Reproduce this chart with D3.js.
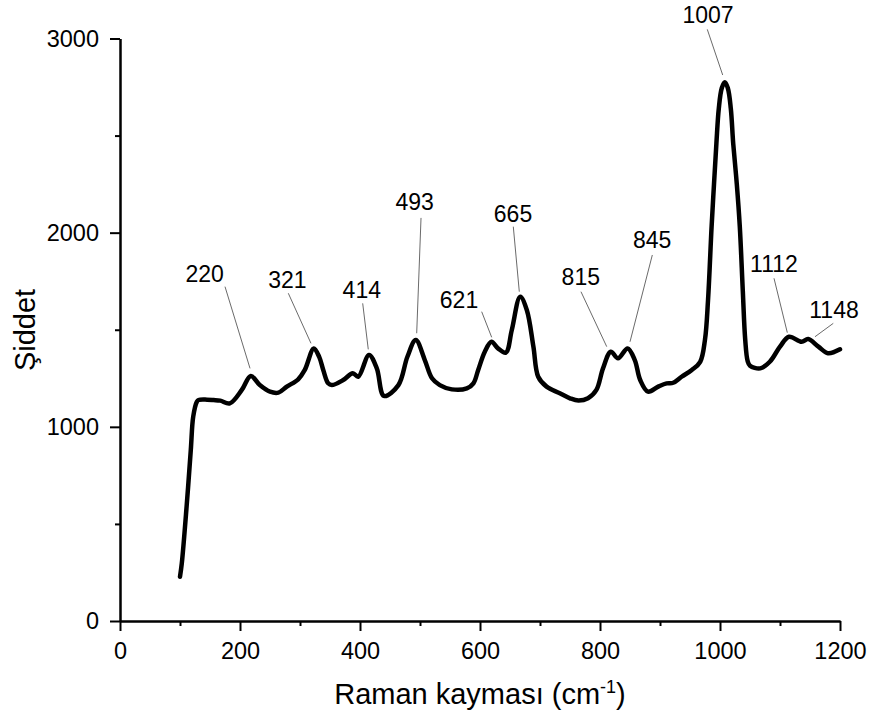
<!DOCTYPE html>
<html>
<head>
<meta charset="utf-8">
<script src="https://cdn.jsdelivr.net/npm/d3@7"></script>
<style>
  html, body { margin: 0; padding: 0; background: #fff; }
  svg { display: block; font-family: Arial, "Liberation Sans", sans-serif; }
</style>
</head>
<body>
<svg id="chart" width="873" height="727"></svg>
<script>
// ---------- DATA ----------
const ramanShift = [100, 103, 111, 118, 122, 128, 131, 145, 156, 167, 183, 203, 218, 233, 250, 264, 278, 297, 308, 323, 332, 339, 347, 353, 372, 388, 397, 415, 428, 440, 464, 479, 493, 508, 520, 533, 553, 578, 589, 597, 608, 619, 630, 643, 653, 667, 678, 689, 697, 711, 733, 750, 764, 780, 794, 805, 818, 830, 846, 858, 867, 880, 897, 911, 922, 936, 953, 967, 975, 980, 986, 990, 994, 998, 1003, 1008, 1013, 1018, 1022, 1028, 1033, 1038, 1042, 1046, 1050, 1067, 1083, 1100, 1115, 1136, 1147, 1164, 1180, 1200];
const intensity  = [228, 297, 589, 881, 1052, 1129, 1138, 1140, 1138, 1135, 1121, 1190, 1262, 1215, 1181, 1176, 1207, 1245, 1293, 1404, 1360, 1290, 1224, 1215, 1241, 1276, 1258, 1370, 1301, 1159, 1215, 1361, 1447, 1344, 1250, 1215, 1193, 1198, 1224, 1293, 1387, 1438, 1404, 1382, 1499, 1670, 1602, 1413, 1258, 1207, 1173, 1147, 1135, 1147, 1190, 1301, 1387, 1353, 1404, 1344, 1241, 1181, 1207, 1224, 1227, 1258, 1293, 1335, 1450, 1650, 2031, 2250, 2460, 2640, 2745, 2775, 2745, 2640, 2460, 2250, 2031, 1700, 1450, 1340, 1315, 1301, 1335, 1413, 1464, 1438, 1452, 1413, 1379, 1399];

const xTickValues = [0, 200, 400, 600, 800, 1000, 1200];
const xMinorTicks = [100, 300, 500, 700, 900, 1100];
const yTickValues = [0, 1000, 2000, 3000];
const yMinorTicks = [500, 1500, 2500];

const peakLabels = ["220", "321", "414", "493", "621", "665", "815", "845", "1007", "1112", "1148"];
// annotation placement, in data units (label centre/baseline, leader start, leader end)
const labelX = [141, 279, 403, 491, 565, 655, 768, 887, 980, 1090, 1190];
const labelY = [1747, 1713, 1662, 2119, 1610, 2056, 1730, 1919, 3078, 1799, 1559];
const leadX1 = [175, 280.5, 404.5, 501.7, 602.8, 655.5, 768.3, 887.2, 978.8, 1090, 1188.8];
const leadY1 = [1722, 1688, 1636, 2076, 1593, 2031, 1696, 1885, 3047, 1765, 1533];
const leadX2 = [216.7, 318.3, 413.8, 494.5, 619.5, 665.5, 811.2, 850, 1004.5, 1112.2, 1158.3];
const leadY2 = [1301, 1430, 1399, 1482, 1461, 1696, 1413, 1438, 2812, 1485, 1464];

const xTitle = "Raman kayması (cm";
const xTitleSup = "-1";
const yTitle = "Şiddet";

// ---------- CHART ----------
const svg = d3.select("#chart");
svg.append("rect").attr("width", 873).attr("height", 727).attr("fill", "#fff");

const x = d3.scaleLinear().domain([0, 1200]).range([120, 840]);
const y = d3.scaleLinear().domain([0, 3000]).range([621, 38.5]);

const data = ramanShift.map((v, i) => ({ x: v, y: intensity[i] }));

// axes
const xAxis = d3.axisBottom(x).tickValues(xTickValues).tickSize(10).tickSizeOuter(0).tickPadding(11).tickFormat(d3.format("d"));
const xMinor = d3.axisBottom(x).tickValues(xMinorTicks).tickSize(5).tickSizeOuter(0).tickFormat("");
const yAxis = d3.axisLeft(y).tickValues(yTickValues).tickSize(10).tickSizeOuter(0).tickPadding(11).tickFormat(d3.format("d"));
const yMinor = d3.axisLeft(y).tickValues(yMinorTicks).tickSize(5).tickSizeOuter(0).tickFormat("");

function styleAxis(g) {
  g.selectAll("path.domain").attr("stroke", "#000").attr("stroke-width", 2);
  g.selectAll(".tick line").attr("stroke", "#000").attr("stroke-width", 2);
  g.selectAll(".tick text").attr("fill", "#000").style("font-size", "23.5px").style("font-family", "Arial, 'Liberation Sans', sans-serif");
}

svg.append("g").attr("transform", "translate(0,621)").call(xMinor).call(styleAxis);
svg.append("g").attr("transform", "translate(0,621)").call(xAxis).call(styleAxis);
svg.append("g").attr("transform", "translate(120,0)").call(yMinor).call(styleAxis);
svg.append("g").attr("transform", "translate(120,0)").call(yAxis).call(styleAxis);

// leader lines
svg.append("g").selectAll("line").data(peakLabels).join("line")
  .attr("x1", (d, i) => x(leadX1[i])).attr("y1", (d, i) => y(leadY1[i]))
  .attr("x2", (d, i) => x(leadX2[i])).attr("y2", (d, i) => y(leadY2[i]))
  .attr("stroke", "#444").attr("stroke-width", 0.8);

// spectrum line
const line = d3.line().x(d => x(d.x)).y(d => y(d.y)).curve(d3.curveCatmullRom.alpha(0.5));
svg.append("path").datum(data).attr("d", line)
  .attr("fill", "none").attr("stroke", "#000").attr("stroke-width", 4.5)
  .attr("stroke-linejoin", "round").attr("stroke-linecap", "round");

// peak labels
svg.append("g").selectAll("text").data(peakLabels).join("text")
  .attr("x", (d, i) => x(labelX[i])).attr("y", (d, i) => y(labelY[i]))
  .attr("text-anchor", "middle").style("font-size", "23px").attr("fill", "#000")
  .text(d => d);

// axis titles
const xt = svg.append("text").attr("x", 480).attr("y", 704).attr("text-anchor", "middle")
  .style("font-size", "29px").attr("fill", "#000");
xt.append("tspan").text(xTitle);
xt.append("tspan").attr("dy", -11).style("font-size", "18px").text(xTitleSup);
xt.append("tspan").attr("dy", 11).text(")");

svg.append("text").attr("transform", "translate(35,330) rotate(-90)")
  .attr("text-anchor", "middle").style("font-size", "29px").attr("fill", "#000")
  .text(yTitle);
</script>
</body>
</html>
